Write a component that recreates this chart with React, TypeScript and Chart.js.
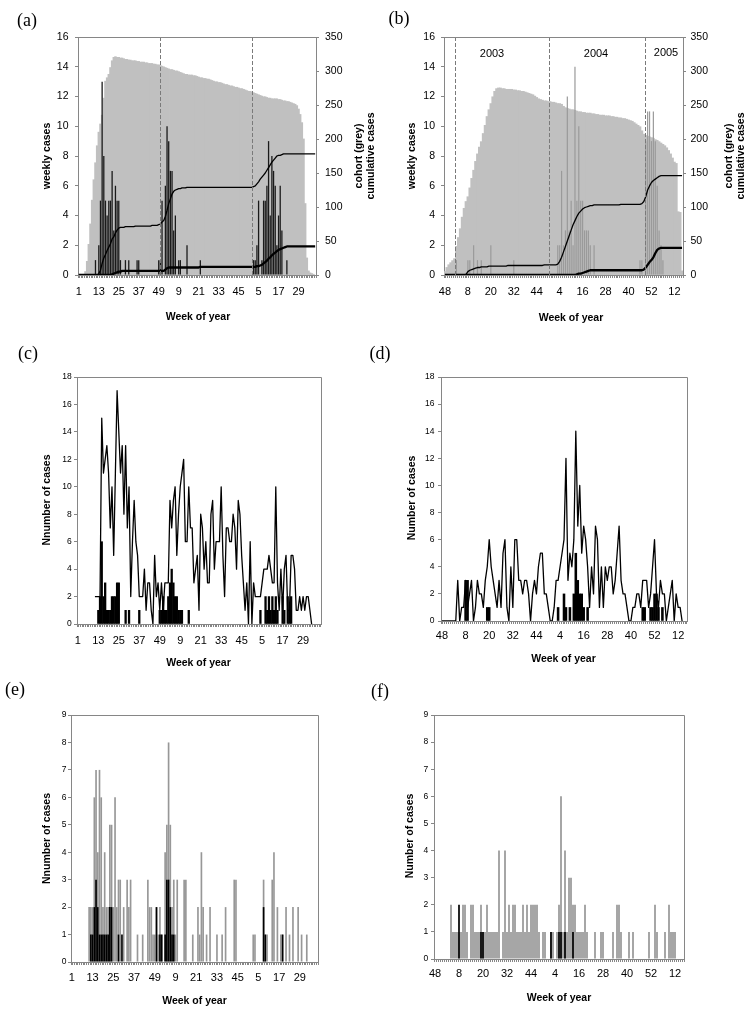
import React, { useEffect, useRef } from 'react';
import { Chart, registerables } from 'chart.js';

Chart.register(...registerables);

const SANS = '"Liberation Sans", Arial, Helvetica, sans-serif';
const SERIF = '"Liberation Serif", "Times New Roman", Times, serif';
const AXIS = '#868686';
Chart.defaults.font.family = SANS;

// ---------- categories (week of year) ----------
const weeksACE = [
  1, 2, 3, 4, 5, 6, 7, 8, 9, 10, 11, 12, 13, 14, 15, 16, 17, 18, 19, 20,
  21, 22, 23, 24, 25, 26, 27, 28, 29, 30, 31, 32, 33, 34, 35, 36, 37, 38, 39, 40,
  41, 42, 43, 44, 45, 46, 47, 48, 49, 50, 51, 52, 1, 2, 3, 4, 5, 6, 7, 8,
  9, 10, 11, 12, 13, 14, 15, 16, 17, 18, 19, 20, 21, 22, 23, 24, 25, 26, 27, 28,
  29, 30, 31, 32, 33, 34, 35, 36, 37, 38, 39, 40, 41, 42, 43, 44, 45, 46, 47, 48,
  49, 50, 51, 52, 1, 2, 3, 4, 5, 6, 7, 8, 9, 10, 11, 12, 13, 14, 15, 16,
  17, 18, 19, 20, 21, 22, 23, 24, 25, 26, 27, 28, 29, 30, 31, 32, 33, 34, 35, 36,
  37, 38, 39,
];
const weeksBDF = [
  48, 49, 50, 51, 52, 1, 2, 3, 4, 5, 6, 7, 8, 9, 10, 11, 12, 13, 14, 15,
  16, 17, 18, 19, 20, 21, 22, 23, 24, 25, 26, 27, 28, 29, 30, 31, 32, 33, 34, 35,
  36, 37, 38, 39, 40, 41, 42, 43, 44, 45, 46, 47, 48, 49, 50, 51, 52, 1, 2, 3,
  4, 5, 6, 7, 8, 9, 10, 11, 12, 13, 14, 15, 16, 17, 18, 19, 20, 21, 22, 23,
  24, 25, 26, 27, 28, 29, 30, 31, 32, 33, 34, 35, 36, 37, 38, 39, 40, 41, 42, 43,
  44, 45, 46, 47, 48, 49, 50, 51, 52, 1, 2, 3, 4, 5, 6, 7, 8, 9, 10, 11,
  12, 13, 14, 15, 16,
];
const ticksACE = ['1', '13', '25', '37', '49', '9', '21', '33', '45', '5', '17', '29'];
const ticksBDF = ['48', '8', '20', '32', '44', '4', '16', '28', '40', '52', '12'];

// ---------- panel (a) ----------
const aCohort = [
  0, 0, 0, 0, 5, 20, 45, 75, 110, 140,
  165, 190, 210, 222, 235, 260, 285, 290, 295, 305,
  315, 320, 321, 320, 320, 319, 319, 318, 317, 317,
  316, 316, 315, 315, 315, 314, 314, 313, 313, 313,
  312, 312, 311, 311, 311, 310, 310, 309, 309, 308,
  307, 306, 305, 304, 303, 302, 302, 301, 300, 300,
  299, 298, 297, 296, 295, 295, 294, 294, 294, 293,
  293, 292, 291, 290, 290, 289, 289, 288, 288, 287,
  286, 285, 284, 284, 283, 283, 282, 281, 280, 280,
  279, 278, 278, 277, 276, 276, 275, 274, 274, 273,
  272, 271, 270, 270, 269, 268, 267, 266, 265, 264,
  263, 262, 262, 261, 260, 260, 259, 259, 259, 259,
  258, 258, 257, 256, 256, 255, 255, 254, 253, 252,
  251, 249, 244, 236, 224, 200, 105, 25, 6, 3,
  2, 1, 0,
];
const aWeekly = [
  0, 0, 0, 0, 0, 0, 0, 0, 0, 0,
  1, 0, 2, 5, 13, 8, 5, 4, 5, 5,
  7, 3, 6, 5, 5, 1, 0, 0, 1, 0,
  1, 0, 0, 0, 0, 1, 1, 0, 0, 0,
  0, 0, 0, 0, 0, 0, 0, 0, 1, 1,
  5, 0, 6, 10, 9, 7, 7, 3, 4, 0,
  1, 1, 0, 0, 0, 2, 0, 0, 0, 0,
  0, 0, 0, 1, 0, 0, 0, 0, 0, 0,
  0, 0, 0, 0, 0, 0, 0, 0, 0, 0,
  0, 0, 0, 0, 0, 0, 0, 0, 0, 0,
  0, 0, 0, 0, 0, 1, 1, 2, 5, 0,
  1, 5, 5, 6, 9, 4, 8, 7, 6, 2,
  4, 6, 3, 0, 0, 1, 0, 0, 0, 0,
  0, 0, 0, 0, 0, 0, 0, 0, 0, 0,
  0, 0, 0,
];
const aCumAll = [
  0, 0, 0, 0, 0, 0, 0, 0, 0, 0,
  0, 0, 2, 7, 17, 25, 30, 36, 41, 46,
  53, 56, 62, 66, 69, 70, 70, 70, 71, 71,
  71, 71, 71, 71, 72, 72, 72, 72, 72, 72,
  72, 72, 72, 72, 73, 73, 73, 73, 74, 75,
  78, 80, 86, 95, 105, 112, 119, 123, 125, 126,
  127, 127, 128, 128, 128, 129, 129, 129, 129, 129,
  129, 129, 129, 129, 129, 129, 129, 129, 129, 129,
  129, 129, 129, 129, 129, 129, 129, 129, 129, 129,
  129, 129, 129, 129, 129, 129, 129, 129, 129, 129,
  129, 129, 129, 129, 129, 130, 131, 134, 137, 141,
  144, 147, 150, 154, 158, 162, 166, 169, 172, 175,
  176, 176, 177, 178, 178, 178, 178, 178, 178, 178,
  178, 178, 178, 178, 178, 178, 178, 178, 178, 178,
  178, 178, 178,
];
const aCumSevere = [
  0, 0, 0, 0, 0, 0, 0, 0, 0, 0,
  0, 0, 0, 0, 0, 0, 0, 0, 0, 0,
  1, 2, 3, 4, 5, 5, 6, 6, 6, 6,
  6, 6, 6, 6, 6, 6, 6, 6, 6, 6,
  6, 6, 6, 6, 6, 6, 6, 6, 6, 6,
  6, 6, 8, 10, 11, 11, 11, 11, 11, 11,
  11, 11, 11, 11, 11, 11, 11, 11, 11, 11,
  11, 11, 11, 12, 12, 12, 12, 12, 12, 12,
  12, 12, 12, 12, 12, 12, 12, 12, 12, 12,
  12, 12, 12, 12, 12, 12, 12, 12, 12, 12,
  12, 12, 12, 12, 12, 12, 12, 13, 13, 14,
  15, 17, 19, 21, 24, 26, 29, 31, 33, 35,
  37, 38, 39, 40, 41, 42, 42, 42, 42, 42,
  42, 42, 42, 42, 42, 42, 42, 42, 42, 42,
  42, 42, 42,
];
const aDividers = [48.96, 104.07];

// ---------- panel (b) ----------
const bCohort = [
  5, 11, 15, 18, 21, 24, 42, 55, 68, 85,
  98, 108, 115, 128, 142, 154, 167, 178, 188, 196,
  208, 220, 233, 243, 252, 262, 270, 274, 275, 275,
  274, 274, 273, 273, 273, 273, 272, 272, 271, 271,
  270, 270, 269, 268, 267, 266, 265, 263, 261, 259,
  258, 257, 256, 256, 255, 255, 254, 254, 253, 252,
  252, 251, 248, 246, 245, 244, 243, 243, 242, 241,
  240, 240, 239, 239, 238, 238, 238, 237, 237, 236,
  236, 235, 235, 235, 234, 234, 234, 233, 233, 232,
  232, 231, 231, 230, 230, 229, 228, 227, 226, 224,
  222, 220, 218, 212, 207, 205, 204, 203, 202, 201,
  199, 198, 196, 194, 192, 190, 187, 183, 178, 172,
  166, 164, 93, 92, 6,
];
const bWeekly = [
  0, 0, 0, 0, 0, 0, 1, 0, 0, 0,
  0, 0, 1, 1, 0, 2, 0, 1, 0, 1,
  0, 0, 0, 0, 2, 0, 0, 0, 0, 0,
  0, 0, 0, 0, 0, 0, 1, 0, 0, 0,
  0, 0, 0, 0, 0, 0, 0, 0, 0, 0,
  0, 0, 0, 0, 0, 0, 0, 0, 0, 2,
  2, 7, 2, 3, 12, 3, 5, 2, 14, 5,
  10, 5, 5, 3, 3, 3, 2, 0, 2, 0,
  0, 0, 0, 0, 0, 0, 0, 0, 0, 0,
  0, 0, 0, 0, 0, 0, 0, 0, 0, 0,
  0, 0, 1, 1, 0, 9, 11, 11, 9, 11,
  9, 6, 3, 2, 1, 0, 0, 0, 0, 0,
  0, 0, 0, 0, 0,
];
const bCumAll = [
  0, 0, 0, 0, 0, 0, 0, 0, 0, 0,
  0, 1, 5, 7, 8, 9, 10, 11, 11, 12,
  12, 12, 12, 13, 13, 13, 13, 13, 13, 13,
  13, 13, 13, 14, 14, 14, 14, 14, 14, 14,
  14, 14, 14, 14, 14, 14, 14, 14, 14, 14,
  14, 14, 15, 15, 15, 15, 15, 15, 15, 16,
  20, 26, 34, 42, 50, 58, 66, 74, 80, 86,
  91, 94, 97, 99, 100, 101, 102, 102, 103, 103,
  103, 103, 103, 103, 103, 103, 103, 103, 103, 103,
  103, 103, 104, 104, 104, 104, 104, 104, 104, 104,
  104, 104, 104, 105, 108, 115, 125, 131, 136, 139,
  141, 143, 145, 146, 146, 146, 146, 146, 146, 146,
  146, 146, 146, 146, 146,
];
const bCumSevere = [
  0, 0, 0, 0, 0, 0, 0, 0, 0, 0,
  0, 0, 0, 0, 0, 0, 0, 0, 0, 0,
  0, 0, 0, 0, 0, 0, 0, 0, 0, 0,
  0, 0, 0, 0, 0, 0, 0, 0, 0, 0,
  0, 0, 0, 0, 0, 0, 0, 0, 0, 0,
  0, 0, 0, 0, 0, 0, 0, 0, 0, 0,
  0, 0, 0, 0, 0, 0, 0, 0, 0, 1,
  2, 2, 3, 4, 5, 6, 7, 7, 7, 7,
  7, 7, 7, 7, 7, 7, 7, 7, 7, 7,
  7, 7, 7, 7, 7, 7, 7, 7, 7, 7,
  7, 7, 7, 7, 8, 11, 15, 19, 22, 26,
  32, 37, 39, 40, 40, 40, 40, 40, 40, 40,
  40, 40, 40, 40, 40,
];
const bDividers = [5.37, 54.9, 104.9];
const bYears = ['2003', '2004', '2005'];

// ---------- panel (c) ----------
const cAllCases = [
  null, null, null, null, null, null, null, null, null, null,
  2, 2, 2, 2, 15, 11, 12, 13, 11, 7,
  10, 5, 11, 17, 14, 11, 13, 8, 13, 7,
  10, 2, 6, 9, 6, 5, 2, 2, 2, 4,
  1, 3, 3, 1, 0, 5, 2, 3, 1, 3,
  1, 3, 3, 3, 9, 7, 9, 10, 5, 8,
  10, 11, 12, 6, 6, 10, 7, 7, 3, 4,
  5, 1, 8, 7, 4, 6, 3, 3, 8, 9,
  4, 6, 6, 6, 10, 5, 2, 7, 7, 6,
  6, 8, 7, 4, 9, 8, 5, 3, 1, 3,
  0, 6, 0, 3, 2, 2, 2, 2, 3, 4,
  4, 4, 5, 4, 3, 3, 10, 3, 1, 4,
  1, 4, 5, 1, 1, 5, 5, 4, 1, 1,
  2, 1, 2, 1, 2, 2, 1, 0, null, null,
  null, null, null,
];
const cSevere = [
  0, 0, 0, 0, 0, 0, 0, 0, 0, 0,
  0, 0, 1, 2, 6, 2, 3, 1, 1, 1,
  2, 2, 2, 3, 3, 0, 0, 0, 1, 0,
  1, 0, 0, 0, 0, 0, 1, 0, 0, 0,
  0, 0, 0, 0, 0, 0, 0, 0, 1, 1,
  2, 1, 1, 2, 3, 4, 3, 2, 2, 1,
  1, 1, 0, 0, 0, 1, 0, 0, 0, 0,
  0, 0, 0, 0, 0, 0, 0, 0, 0, 0,
  0, 0, 0, 0, 0, 0, 0, 0, 0, 0,
  0, 0, 0, 0, 0, 0, 0, 0, 0, 0,
  0, 0, 0, 0, 0, 0, 0, 1, 0, 0,
  2, 1, 2, 1, 2, 1, 2, 1, 0, 0,
  2, 1, 0, 2, 1, 2, 0, 0, 0, 0,
  0, 0, 0, 0, 0, 0, 0, 0, 0, 0,
  0, 0, 0,
];

// ---------- panel (d) ----------
const dAllCases = [
  0, 0, 0, 0, 0, 0, 0, 0, 3, 0,
  1, 1, 3, 1, 2, 3, 0, 1, 3, 2,
  2, 1, 3, 4, 6, 4, 3, 2, 1, 3,
  1, 5, 6, 1, 0, 4, 1, 6, 6, 3,
  3, 2, 3, 3, 2, 0, 2, 3, 2, 4,
  5, 5, 2, 2, 1, 0, 0, 1, 3, 3,
  4, 5, 6, 12, 3, 5, 4, 6, 14, 7,
  10, 5, 7, 6, 4, 1, 4, 2, 7, 6,
  1, 4, 1, 4, 3, 4, 4, 2, 3, 5,
  7, 3, 2, 2, 1, 0, 0, 1, 1, 2,
  2, 1, 3, 3, 3, 1, 2, 4, 6, 2,
  1, 3, 2, 2, 0, 1, 2, 3, 0, 2,
  1, 1, 0, null, null,
];
const dSevere = [
  0, 0, 0, 0, 0, 0, 0, 0, 0, 0,
  0, 0, 3, 3, 0, 0, 0, 0, 0, 0,
  0, 0, 0, 1, 1, 0, 0, 0, 0, 0,
  0, 0, 0, 0, 0, 0, 0, 0, 0, 0,
  0, 0, 0, 0, 0, 0, 0, 0, 0, 0,
  0, 0, 0, 0, 0, 0, 0, 0, 0, 1,
  0, 0, 2, 1, 0, 1, 0, 2, 5, 3,
  2, 2, 1, 0, 1, 0, 0, 0, 0, 0,
  0, 0, 0, 0, 0, 0, 0, 0, 0, 0,
  0, 0, 0, 0, 0, 0, 0, 0, 0, 0,
  0, 0, 1, 1, 0, 0, 1, 1, 2, 2,
  1, 0, 1, 0, 0, 0, 0, 0, 0, 0,
  0, 0, 0, 0, 0,
];

// ---------- panel (e) ----------
const eCohortCases = [
  0, 0, 0, 0, 0, 0, 0, 0, 0, 0,
  2, 2, 2, 6, 7, 4, 7, 6, 2, 4,
  2, 2, 5, 5, 2, 6, 2, 3, 3, 0,
  2, 0, 3, 2, 3, 0, 0, 0, 1, 0,
  0, 1, 0, 0, 3, 2, 2, 1, 1, 2,
  1, 2, 1, 0, 4, 5, 8, 5, 2, 3,
  1, 3, 0, 0, 0, 3, 3, 0, 0, 0,
  1, 0, 0, 2, 1, 4, 2, 0, 1, 0,
  2, 0, 0, 0, 1, 0, 0, 1, 0, 2,
  0, 0, 0, 0, 3, 3, 0, 0, 0, 0,
  0, 0, 0, 0, 0, 1, 1, 0, 0, 0,
  0, 3, 1, 1, 0, 0, 3, 4, 0, 2,
  0, 1, 1, 0, 2, 0, 1, 0, 2, 0,
  0, 2, 0, 1, 0, 0, 1, 0, 0, 0,
  0, 0, 0,
];
const eSevere = [
  0, 0, 0, 0, 0, 0, 0, 0, 0, 0,
  0, 1, 1, 2, 3, 2, 1, 1, 1, 1,
  1, 1, 2, 2, 0, 0, 0, 1, 0, 1,
  0, 0, 0, 0, 0, 0, 0, 0, 0, 0,
  0, 0, 0, 0, 0, 0, 0, 0, 0, 2,
  0, 1, 1, 0, 1, 3, 3, 2, 1, 1,
  0, 0, 0, 0, 0, 0, 0, 0, 0, 0,
  0, 0, 0, 0, 0, 0, 0, 0, 0, 0,
  0, 0, 0, 0, 0, 0, 0, 0, 0, 0,
  0, 0, 0, 0, 0, 0, 0, 0, 0, 0,
  0, 0, 0, 0, 0, 0, 0, 0, 0, 0,
  0, 2, 1, 0, 0, 0, 0, 0, 0, 0,
  0, 0, 1, 0, 0, 0, 0, 0, 0, 0,
  0, 0, 0, 0, 0, 0, 0, 0, 0, 0,
  0, 0, 0,
];

// ---------- panel (f) ----------
const fCohortCases = [
  0, 0, 0, 0, 0, 0, 0, 0, 2, 1,
  1, 1, 1, 1, 2, 2, 1, 0, 2, 2,
  1, 1, 1, 2, 1, 1, 2, 1, 1, 1,
  1, 1, 4, 0, 1, 4, 1, 2, 1, 2,
  2, 1, 1, 1, 2, 1, 2, 1, 2, 2,
  2, 2, 1, 0, 1, 1, 0, 0, 1, 1,
  0, 1, 2, 6, 1, 4, 1, 3, 3, 2,
  2, 1, 1, 1, 1, 2, 1, 0, 0, 0,
  1, 0, 0, 1, 1, 0, 0, 0, 0, 1,
  0, 2, 2, 1, 0, 0, 0, 1, 0, 1,
  0, 0, 0, 0, 0, 0, 0, 1, 0, 0,
  2, 1, 0, 0, 0, 1, 0, 2, 1, 1,
  1, 0, 0, 0, 0,
];
const fSevere = [
  0, 0, 0, 0, 0, 0, 0, 0, 0, 0,
  0, 0, 2, 0, 0, 0, 0, 0, 0, 0,
  0, 0, 0, 1, 1, 0, 0, 0, 0, 0,
  0, 0, 0, 0, 0, 0, 0, 0, 0, 0,
  0, 0, 0, 0, 0, 0, 0, 0, 0, 0,
  0, 0, 0, 0, 0, 0, 0, 0, 1, 0,
  0, 0, 1, 1, 0, 1, 0, 0, 0, 1,
  0, 0, 0, 0, 0, 0, 0, 0, 0, 0,
  0, 0, 0, 0, 0, 0, 0, 0, 0, 0,
  0, 0, 0, 0, 0, 0, 0, 0, 0, 0,
  0, 0, 0, 0, 0, 0, 0, 0, 0, 0,
  0, 0, 0, 0, 0, 0, 0, 0, 0, 0,
  0, 0, 0, 0, 0,
];

// ---------- layout helpers ----------
type Txt = { text: string; x: number; y: number; font: string; rot?: boolean };
type Rect = { left: number; top: number; width: number; height: number };
type Area = { left: number; top: number; right: number; bottom: number };
type PanelDef = {
  canvas: Rect;
  area: Area;
  labels: number[];
  ticks: string[];
  yMax: number;
  yStep: number;
  yFont: number;
  yPad: number;
  xPad: number;
  y1?: { max: number; step: number; font: number; pad: number };
  datasets: any[];
  dividers?: number[];
  texts: Txt[];
};

const nz = (arr: (number | null)[]) => arr.map((v) => (v === 0 ? null : v));
const TITLE = `bold 10.5px ${SANS}`;
const PANEL = `18px ${SERIF}`;

function buildConfig(p: PanelDef): any {
  const c = p.canvas;
  const a = p.area;
  const leftW = a.left - c.left;
  const rightW = c.left + c.width - a.right;
  const topPad = a.top - c.top;
  const bottomH = c.top + c.height - a.bottom;
  const scales: any = {
    x: {
      type: 'category',
      offset: true,
      z: 1,
      grid: { display: true, drawOnChartArea: false, drawTicks: true, tickLength: 3, color: AXIS, offset: true },
      border: { display: true, color: AXIS, width: 1 },
      ticks: {
        autoSkip: false,
        maxRotation: 0,
        minRotation: 0,
        padding: p.xPad,
        color: '#000',
        font: { family: SANS, size: 11 },
        callback: (_v: any, i: number) => (i % 12 === 0 ? p.ticks[i / 12] ?? '' : ''),
      },
      afterFit: (s: any) => {
        s.height = bottomH;
      },
    },
    y: {
      type: 'linear',
      position: 'left',
      min: 0,
      max: p.yMax,
      z: 1,
      ticks: { stepSize: p.yStep, padding: p.yPad, color: '#000', font: { family: SANS, size: p.yFont } },
      grid: { display: true, drawOnChartArea: false, drawTicks: true, tickLength: 3, color: AXIS },
      border: { display: true, color: AXIS, width: 1 },
      afterFit: (s: any) => {
        s.width = leftW;
      },
    },
  };
  if (p.y1) {
    scales.y1 = {
      type: 'linear',
      position: 'right',
      min: 0,
      max: p.y1.max,
      z: 1,
      ticks: { stepSize: p.y1.step, padding: p.y1.pad, color: '#000', font: { family: SANS, size: p.y1.font } },
      grid: { display: true, drawOnChartArea: false, drawTicks: true, tickLength: 3, color: AXIS },
      border: { display: true, color: AXIS, width: 1 },
      afterFit: (s: any) => {
        s.width = rightW;
      },
    };
  }
  const align = (px: number) => Math.round(px - 0.5) + 0.5;
  const decor = {
    id: 'decor',
    afterDatasetsDraw(chart: any) {
      const { ctx, chartArea: ca } = chart;
      const xs = chart.scales.x;
      ctx.save();
      if (p.dividers) {
        ctx.strokeStyle = '#7a7a7a';
        ctx.lineWidth = 1;
        ctx.setLineDash([4, 2]);
        p.dividers.forEach((d) => {
          const x = align(xs.getPixelForValue(d));
          ctx.beginPath();
          ctx.moveTo(x, ca.top);
          ctx.lineTo(x, ca.bottom);
          ctx.stroke();
        });
        ctx.setLineDash([]);
      }
      ctx.strokeStyle = AXIS;
      ctx.lineWidth = 1;
      ctx.beginPath();
      const t = align(ca.top);
      const r = align(ca.right);
      ctx.moveTo(align(ca.left), t);
      ctx.lineTo(r, t);
      ctx.lineTo(r, align(ca.bottom));
      ctx.stroke();
      ctx.restore();
    },
    afterDraw(chart: any) {
      const ctx = chart.ctx;
      ctx.save();
      ctx.fillStyle = '#000';
      ctx.textAlign = 'center';
      ctx.textBaseline = 'middle';
      p.texts.forEach((tx) => {
        const x = tx.x - c.left;
        const y = tx.y - c.top;
        ctx.font = tx.font;
        if (tx.rot) {
          ctx.save();
          ctx.translate(x, y);
          ctx.rotate(-Math.PI / 2);
          ctx.fillText(tx.text, 0, 0);
          ctx.restore();
        } else {
          ctx.fillText(tx.text, x, y);
        }
      });
      ctx.restore();
    },
  };
  return {
    type: 'bar',
    data: { labels: p.labels.map(String), datasets: p.datasets },
    options: {
      responsive: false,
      maintainAspectRatio: false,
      animation: false,
      events: [],
      layout: { padding: { top: topPad, left: 0, right: p.y1 ? 0 : rightW, bottom: 0 } },
      plugins: { legend: { display: false }, tooltip: { enabled: false }, title: { display: false } },
      scales,
    },
    plugins: [decor],
  };
}

const lineDs = (data: (number | null)[], width: number, axis = 'y') => ({
  type: 'line',
  data,
  yAxisID: axis,
  borderColor: '#000',
  backgroundColor: '#000',
  borderWidth: width,
  pointRadius: 0,
  tension: 0,
  borderJoinStyle: 'round',
  fill: false,
  order: 0,
});

const PANELS: PanelDef[] = [
  {
    canvas: { left: 0, top: 0, width: 380, height: 330 },
    area: { left: 78, top: 37, right: 316, bottom: 275 },
    labels: weeksACE,
    ticks: ticksACE,
    yMax: 16,
    yStep: 2,
    yFont: 10.5,
    yPad: 6.5,
    xPad: 7,
    y1: { max: 350, step: 50, font: 10.5, pad: 6 },
    dividers: aDividers,
    datasets: [
      lineDs(aCumAll, 1.3, 'y1'),
      lineDs(aCumSevere, 2.3, 'y1'),
      { type: 'bar', data: nz(aWeekly), yAxisID: 'y', backgroundColor: '#1a1a1a', barThickness: 1.3, grouped: false, inflateAmount: 0, order: 1 },
      { type: 'bar', data: nz(aCohort), yAxisID: 'y1', backgroundColor: '#c0c0c0', barPercentage: 1, categoryPercentage: 1, grouped: false, inflateAmount: 0.4, order: 2 },
    ],
    texts: [
      { text: '(a)', x: 27, y: 21, font: PANEL },
      { text: 'weekly cases', x: 47, y: 156, font: TITLE, rot: true },
      { text: 'cohort (grey)', x: 359, y: 156, font: TITLE, rot: true },
      { text: 'cumulative cases', x: 371, y: 156, font: TITLE, rot: true },
      { text: 'Week of year', x: 198, y: 317, font: TITLE },
    ],
  },
  {
    canvas: { left: 375, top: 0, width: 375, height: 330 },
    area: { left: 444, top: 37, right: 683, bottom: 275 },
    labels: weeksBDF,
    ticks: ticksBDF,
    yMax: 16,
    yStep: 2,
    yFont: 10.5,
    yPad: 6,
    xPad: 7,
    y1: { max: 350, step: 50, font: 10.5, pad: 4.5 },
    dividers: bDividers,
    datasets: [
      lineDs(bCumAll, 1.3, 'y1'),
      lineDs(bCumSevere, 2.3, 'y1'),
      { type: 'bar', data: nz(bWeekly), yAxisID: 'y', backgroundColor: '#9a9a9a', barThickness: 1.2, grouped: false, inflateAmount: 0, order: 1 },
      { type: 'bar', data: nz(bCohort), yAxisID: 'y1', backgroundColor: '#c0c0c0', barPercentage: 1, categoryPercentage: 1, grouped: false, inflateAmount: 0.4, order: 2 },
    ],
    texts: [
      { text: '(b)', x: 399, y: 19, font: PANEL },
      { text: 'weekly cases', x: 412, y: 156, font: TITLE, rot: true },
      { text: 'cohort (grey)', x: 729, y: 156, font: TITLE, rot: true },
      { text: 'cumulative cases', x: 741, y: 156, font: TITLE, rot: true },
      { text: 'Week of year', x: 571, y: 318, font: TITLE },
      { text: bYears[0], x: 492, y: 54, font: `11px ${SANS}` },
      { text: bYears[1], x: 596, y: 53.5, font: `11px ${SANS}` },
      { text: bYears[2], x: 666, y: 52.5, font: `11px ${SANS}` },
    ],
  },
  {
    canvas: { left: 0, top: 330, width: 380, height: 342 },
    area: { left: 77, top: 377, right: 321, bottom: 624 },
    labels: weeksACE,
    ticks: ticksACE,
    yMax: 18,
    yStep: 2,
    yFont: 8.5,
    yPad: 2.3,
    xPad: 7,
    datasets: [
      lineDs(cAllCases, 1.3),
      { type: 'bar', data: nz(cSevere), backgroundColor: '#000', barPercentage: 1, categoryPercentage: 1, grouped: false, inflateAmount: 0.3, order: 1 },
    ],
    texts: [
      { text: '(c)', x: 28, y: 354, font: PANEL },
      { text: 'Nnumber of cases', x: 47, y: 500, font: TITLE, rot: true },
      { text: 'Week of year', x: 198.5, y: 663, font: TITLE },
    ],
  },
  {
    canvas: { left: 362, top: 330, width: 388, height: 342 },
    area: { left: 441, top: 377, right: 687, bottom: 621 },
    labels: weeksBDF,
    ticks: ticksBDF,
    yMax: 18,
    yStep: 2,
    yFont: 8.5,
    yPad: 3.5,
    xPad: 5.5,
    datasets: [
      lineDs(dAllCases, 1.3),
      { type: 'bar', data: nz(dSevere), backgroundColor: '#000', barPercentage: 1, categoryPercentage: 1, grouped: false, inflateAmount: 0.3, order: 1 },
    ],
    texts: [
      { text: '(d)', x: 380, y: 354, font: PANEL },
      { text: 'Number of cases', x: 412, y: 498, font: TITLE, rot: true },
      { text: 'Week of year', x: 563.5, y: 659.5, font: TITLE },
    ],
  },
  {
    canvas: { left: 0, top: 672, width: 380, height: 341 },
    area: { left: 71, top: 715, right: 318, bottom: 962 },
    labels: weeksACE,
    ticks: ticksACE,
    yMax: 9,
    yStep: 1,
    yFont: 8.5,
    yPad: 1.5,
    xPad: 6.4,
    datasets: [
      { type: 'bar', data: nz(eSevere), backgroundColor: '#000', barPercentage: 0.96, categoryPercentage: 1, grouped: false, inflateAmount: 0, order: 0 },
      { type: 'bar', data: nz(eCohortCases), backgroundColor: '#979797', barPercentage: 0.96, categoryPercentage: 1, grouped: false, inflateAmount: 0, order: 1 },
    ],
    texts: [
      { text: '(e)', x: 15, y: 690, font: PANEL },
      { text: 'Nnumber of cases', x: 47, y: 838.5, font: TITLE, rot: true },
      { text: 'Week of year', x: 194.5, y: 1001, font: TITLE },
    ],
  },
  {
    canvas: { left: 362, top: 672, width: 388, height: 341 },
    area: { left: 434, top: 715, right: 684, bottom: 959 },
    labels: weeksBDF,
    ticks: ticksBDF,
    yMax: 9,
    yStep: 1,
    yFont: 8.5,
    yPad: 2.7,
    xPad: 5.7,
    datasets: [
      { type: 'bar', data: nz(fSevere), backgroundColor: '#000', barPercentage: 0.85, categoryPercentage: 1, grouped: false, inflateAmount: 0, order: 0 },
      { type: 'bar', data: nz(fCohortCases), backgroundColor: '#979797', barPercentage: 0.85, categoryPercentage: 1, grouped: false, inflateAmount: 0, order: 1 },
    ],
    texts: [
      { text: '(f)', x: 380, y: 692, font: PANEL },
      { text: 'Number of cases', x: 410, y: 836, font: TITLE, rot: true },
      { text: 'Week of year', x: 559, y: 998, font: TITLE },
    ],
  },
];

function Panel({ def }: { def: PanelDef }) {
  const ref = useRef<HTMLCanvasElement | null>(null);
  useEffect(() => {
    if (!ref.current) return;
    const chart = new Chart(ref.current, buildConfig(def));
    return () => chart.destroy();
  }, [def]);
  const c = def.canvas;
  return (
    <canvas
      ref={ref}
      width={c.width}
      height={c.height}
      style={{ position: 'absolute', left: c.left, top: c.top, width: c.width, height: c.height }}
    />
  );
}

export default function App() {
  return (
    <div style={{ position: 'absolute', left: 0, top: 0, width: 750, height: 1013, background: '#ffffff' }}>
      {PANELS.map((d, i) => (
        <Panel key={i} def={d} />
      ))}
    </div>
  );
}
